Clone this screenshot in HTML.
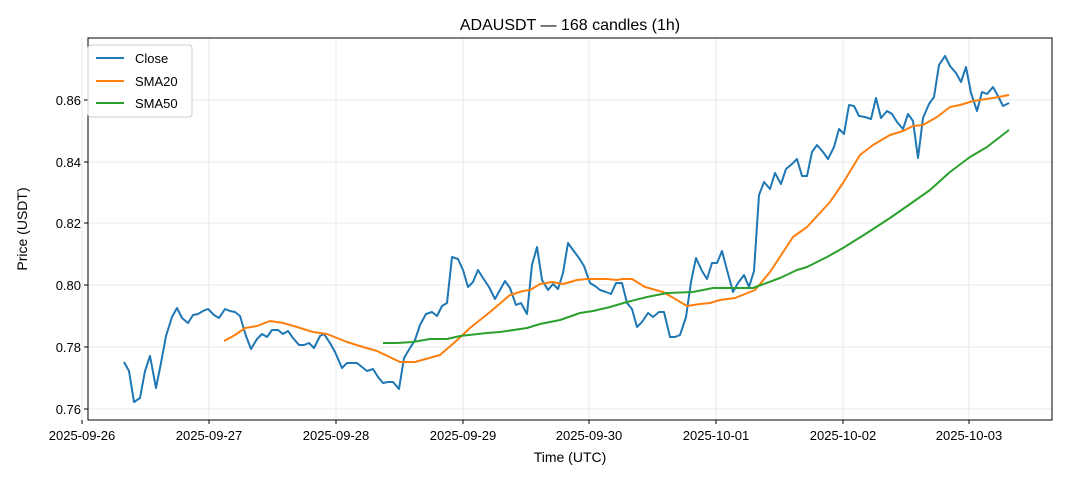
<!DOCTYPE html>
<html><head><meta charset="utf-8"><style>
body{margin:0;background:#fff;}
svg{display:block;font-family:"Liberation Sans","DejaVu Sans",sans-serif;}
</style></head><body>
<svg width="1068" height="481" viewBox="0 0 1068 481" xmlns="http://www.w3.org/2000/svg">
<rect width="1068" height="481" fill="#fff"/>
<g stroke="#e6e9ee" stroke-width="1">
<line x1="82" y1="38" x2="82" y2="420"/><line x1="209" y1="38" x2="209" y2="420"/><line x1="336" y1="38" x2="336" y2="420"/><line x1="463" y1="38" x2="463" y2="420"/><line x1="589" y1="38" x2="589" y2="420"/><line x1="716" y1="38" x2="716" y2="420"/><line x1="843" y1="38" x2="843" y2="420"/><line x1="969" y1="38" x2="969" y2="420"/>
<line x1="88" y1="409" x2="1052" y2="409"/><line x1="88" y1="347" x2="1052" y2="347"/><line x1="88" y1="285" x2="1052" y2="285"/><line x1="88" y1="223" x2="1052" y2="223"/><line x1="88" y1="162" x2="1052" y2="162"/><line x1="88" y1="100" x2="1052" y2="100"/>
</g>
<g fill="none" stroke-width="2" stroke-linejoin="round">
<polyline stroke="#1f77b4" points="124,362 129,371 134,402 140,398 145,371 150,356 156,388 161,363 166,336 172,317 177,308 182,318 188,323 193,315 198,314 203,311 208,309 214,315 219,318 225,309 230,311 235,312 240,316 246,336 251,349 257,339 262,334 267,337 272,330 278,330 283,334 288,331 293,338 299,345 304,345 309,343 314,348 320,336 324,334 330,343 335,352 342,368 347,363 357,363 367,371 373,369 378,377 383,383 388,382 393,382 399,389 404,358 410,348 415,340 420,325 426,314 432,312 437,316 442,306 447,303 452,257 458,259 463,270 468,287 473,282 478,270 483,278 489,287 495,299 500,290 505,281 510,288 516,305 521,303 527,314 532,265 537,247 542,280 548,290 553,284 558,289 563,273 568,243 573,250 579,258 584,266 590,283 595,286 600,290 606,292 611,294 616,283 622,283 627,303 632,309 637,327 642,322 648,313 653,317 659,312 664,312 670,337 675,337 680,335 686,317 691,282 696,258 702,271 707,279 712,263 717,263 722,251 727,270 733,292 738,283 744,275 749,287 754,271 759,195 764,182 770,189 775,173 781,184 786,169 792,164 797,159 802,176 807,176 812,152 817,145 823,152 828,159 834,147 839,129 844,134 849,105 854,106 859,116 865,117 871,119 876,98 881,118 887,111 892,114 897,122 903,129 908,114 913,121 918,158 923,118 929,104 934,97 939,65 945,56 950,66 956,73 961,82 966,67 971,93 977,111 982,92 987,94 993,87 998,96 1003,106 1009,103"/>
<polyline stroke="#ff7f0e" points="224,341 235,335 245,328 257,326 270,321 283,323 297,327 313,332 327,334 347,342 363,347 377,351 400,362 415,362 440,355 455,342 470,328 490,312 510,295 523,291 530,290 540,284 552,282 563,284 577,280 587,279 607,279 617,280 622,279 632,279 645,287 663,292 677,300 687,306 700,304 710,303 720,300 735,298 755,290 770,272 793,237 807,227 830,202 843,183 860,155 873,145 890,135 903,131 913,126 923,125 937,117 950,107 960,105 973,101 993,98 1009,95"/>
<polyline stroke="#2ca02c" points="383,343 397,343 413,342 430,339 447,339 460,336 487,333 500,332 527,328 540,324 560,320 580,313 593,311 610,307 627,302 647,297 667,293 693,292 713,288 753,288 780,278 797,270 807,267 827,257 843,248 867,233 890,218 913,202 930,190 950,172 970,157 987,147 1009,130"/>
</g>
<rect x="88" y="38" width="964" height="382" fill="none" stroke="#000" stroke-width="1"/>
<g stroke="#000" stroke-width="1">
<line x1="82" y1="420" x2="82" y2="424"/><line x1="209" y1="420" x2="209" y2="424"/><line x1="336" y1="420" x2="336" y2="424"/><line x1="463" y1="420" x2="463" y2="424"/><line x1="589" y1="420" x2="589" y2="424"/><line x1="716" y1="420" x2="716" y2="424"/><line x1="843" y1="420" x2="843" y2="424"/><line x1="969" y1="420" x2="969" y2="424"/>
<line x1="84" y1="409" x2="88" y2="409"/><line x1="84" y1="347" x2="88" y2="347"/><line x1="84" y1="285" x2="88" y2="285"/><line x1="84" y1="223" x2="88" y2="223"/><line x1="84" y1="162" x2="88" y2="162"/><line x1="84" y1="100" x2="88" y2="100"/>
</g>
<g font-size="13" fill="#000" text-anchor="middle">
<text x="82" y="440">2025-09-26</text><text x="209" y="440">2025-09-27</text><text x="336" y="440">2025-09-28</text><text x="463" y="440">2025-09-29</text><text x="589" y="440">2025-09-30</text><text x="716" y="440">2025-10-01</text><text x="843" y="440">2025-10-02</text><text x="969" y="440">2025-10-03</text>
</g>
<g font-size="13" fill="#000" text-anchor="end">
<text x="81" y="414">0.76</text><text x="81" y="352">0.78</text><text x="81" y="290">0.80</text><text x="81" y="228">0.82</text><text x="81" y="167">0.84</text><text x="81" y="105">0.86</text>
</g>
<text x="570" y="462" font-size="14" text-anchor="middle">Time (UTC)</text>
<text x="27" y="229" font-size="14" text-anchor="middle" transform="rotate(-90 27 229)">Price (USDT)</text>
<text x="570" y="30" font-size="16" text-anchor="middle">ADAUSDT — 168 candles (1h)</text>
<rect x="88" y="45" width="104" height="72" rx="3" fill="#fff" stroke="#ccc"/>
<line x1="96" y1="58" x2="124" y2="58" stroke="#1f77b4" stroke-width="2"/><text x="135" y="63" font-size="13">Close</text>
<line x1="96" y1="81" x2="124" y2="81" stroke="#ff7f0e" stroke-width="2"/><text x="135" y="86" font-size="13">SMA20</text>
<line x1="96" y1="103" x2="124" y2="103" stroke="#2ca02c" stroke-width="2"/><text x="135" y="108" font-size="13">SMA50</text>
</svg>
</body></html>
